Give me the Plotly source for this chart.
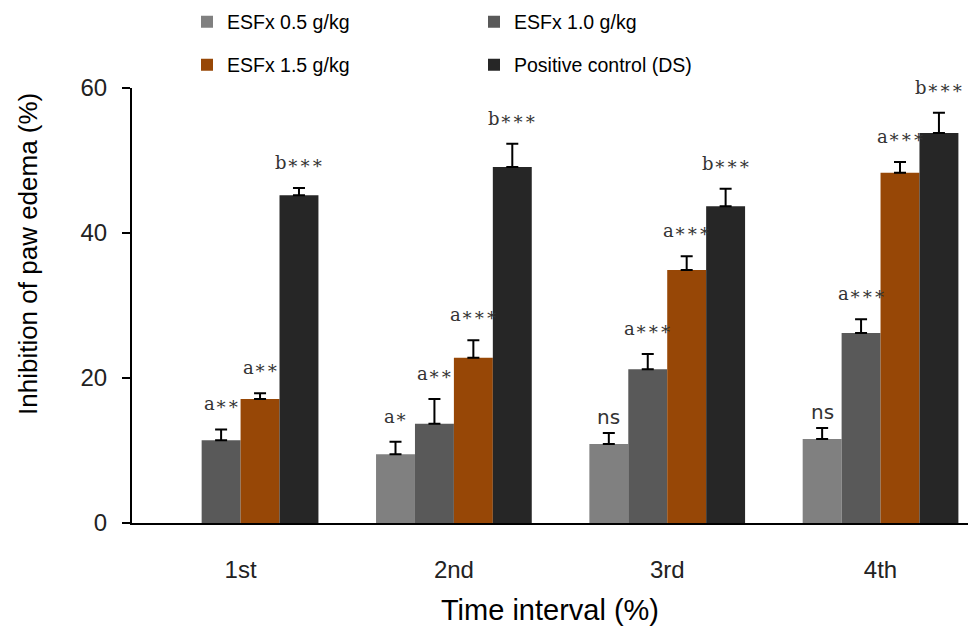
import plotly.graph_objects as go

categories = ["1st", "2nd", "3rd", "4th"]
series_names = ["ESFx 0.5 g/kg", "ESFx 1.0 g/kg", "ESFx 1.5 g/kg", "Positive control (DS)"]
colors = ["#808080", "#595959", "#974706", "#262626"]

esfx_05 = [None, 9.5, 10.9, 11.6]
esfx_10 = [11.4, 13.7, 21.2, 26.2]
esfx_15 = [17.1, 22.8, 34.9, 48.3]
pos_ds = [45.2, 49.1, 43.7, 53.8]

err_05 = [None, 1.7, 1.5, 1.5]
err_10 = [1.5, 3.4, 2.1, 1.9]
err_15 = [0.8, 2.4, 1.9, 1.5]
err_ds = [1.0, 3.2, 2.4, 2.8]

lab_05 = [None, "a∗", "ns", "ns"]
lab_10 = ["a∗∗", "a∗∗", "a∗∗∗", "a∗∗∗"]
lab_15 = ["a∗∗", "a∗∗∗", "a∗∗∗", "a∗∗∗"]
lab_ds = ["b∗∗∗", "b∗∗∗", "b∗∗∗", "b∗∗∗"]

values = [esfx_05, esfx_10, esfx_15, pos_ds]
errors = [err_05, err_10, err_15, err_ds]
labels = [lab_05, lab_10, lab_15, lab_ds]

x_pos = list(range(len(categories)))
bargap = 0.27
bw = (1 - bargap) / 4
legend_ids = ["legend", "legend", "legend2", "legend2"]

fig = go.Figure()
for i, name in enumerate(series_names):
    fig.add_trace(go.Bar(
        x=x_pos, y=values[i], name=name,
        marker=dict(color=colors[i], line=dict(width=0)),
        error_y=dict(type="data", symmetric=False, array=errors[i],
                     arrayminus=[0] * 4, color="black", thickness=2, width=6),
        legend=legend_ids[i],
    ))

annotations = []
for i in range(4):
    for j in range(4):
        lab = labels[i][j]
        if lab is None or values[i][j] is None:
            continue
        serif = lab != "ns"
        annotations.append(dict(
            x=j + (-1.5 + i) * bw, y=values[i][j] + errors[i][j],
            xref="x", yref="y", text=lab, showarrow=False,
            yanchor="bottom", yshift=13 if serif else 2,
            font=dict(family="DejaVu Serif" if serif else "DejaVu Sans",
                      size=18 if serif else 20, color="#333333"),
        ))

pl, pr, pt, pb = 132, 0, 88, 107
pw, ph = 968 - pl - pr, 630 - pt - pb
annotations.append(dict(
    x=(28 - pl) / pw, y=(630 - pb - 254) / ph, xref="paper", yref="paper",
    xanchor="center", yanchor="middle",
    text="Inhibition of paw edema (%)", showarrow=False, textangle=-90,
    font=dict(family="Liberation Sans", size=26, color="black"),
))

fig.update_layout(
    width=968, height=630,
    margin=dict(l=pl, r=pr, t=pt, b=pb, autoexpand=False),
    paper_bgcolor="white", plot_bgcolor="white",
    barmode="group", bargap=bargap, bargroupgap=0,
    font=dict(family="Liberation Sans", color="black"),
    xaxis=dict(
        tickmode="array", tickvals=x_pos, ticktext=categories,
        range=[-0.509, 3.41], showline=True, linecolor="black", linewidth=2,
        ticks="", showgrid=False, zeroline=False,
        tickfont=dict(size=24, color="#222222"), ticklabelstandoff=24,
        title=dict(text="Time interval (%)", font=dict(size=29, color="black"), standoff=18),
    ),
    yaxis=dict(
        range=[0, 60], tickvals=[0, 20, 40, 60], showline=True, linecolor="black",
        linewidth=2, ticks="outside", ticklen=8, tickwidth=2, tickcolor="black",
        showgrid=False, zeroline=False, tickfont=dict(size=24, color="#222222"),
        ticklabelstandoff=10,
    ),
    legend=dict(orientation="h", xref="container", yref="container",
                x=187 / 968, y=1 - 22 / 630, xanchor="left", yanchor="middle",
                entrywidth=242, entrywidthmode="pixels",
                font=dict(size=19.5, color="black"), bgcolor="rgba(0,0,0,0)"),
    legend2=dict(orientation="h", xref="container", yref="container",
                 x=187 / 968, y=1 - 65 / 630, xanchor="left", yanchor="middle",
                 entrywidth=242, entrywidthmode="pixels",
                 font=dict(size=19.5, color="black"), bgcolor="rgba(0,0,0,0)"),
    annotations=annotations,
    showlegend=True,
)

fig.write_html("out.html", config={"displayModeBar": False},
               post_script="document.body.style.margin='0';")
